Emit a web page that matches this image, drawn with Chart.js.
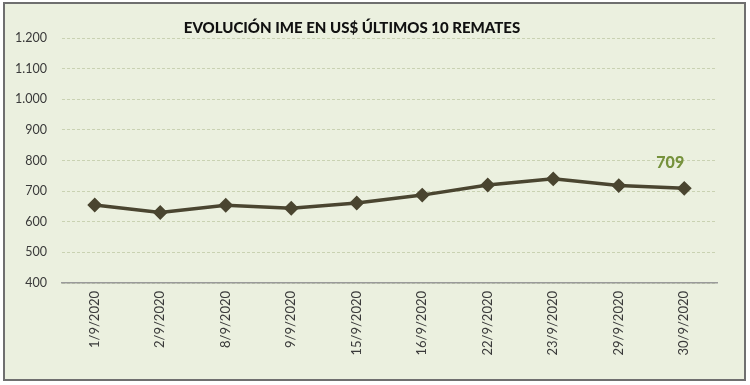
<!DOCTYPE html>
<html>
<head>
<meta charset="utf-8">
<script src="https://cdn.jsdelivr.net/npm/chart.js@4.4.1/dist/chart.umd.min.js"></script>
<style>
  html, body { margin: 0; padding: 0; background: #ffffff; }
  #box { position: absolute; left: 3px; top: 2px; width: 739px; height: 375px;
         background: #EBF0DF; border: 2px solid #6f6f6f; }
  canvas { display: block; }
</style>
</head>
<body>
<div id="box"><canvas id="c" width="739" height="375"></canvas></div>
<script>
const titleText = 'EVOLUCIÓN IME EN US$ ÚLTIMOS 10 REMATES';
const categories = ['1/9/2020','2/9/2020','8/9/2020','9/9/2020','15/9/2020','16/9/2020','22/9/2020','23/9/2020','29/9/2020','30/9/2020'];
const imeValues = [655, 630, 654, 644, 661, 687, 720, 740, 718, 709];
const yTickValues = [400, 500, 600, 700, 800, 900, 1000, 1100, 1200];

function fmt(v) { return v.toLocaleString('de-DE'); }

const titlePlugin = {
  id: 'customTitle',
  afterDraw(chart) {
    const ctx = chart.ctx;
    ctx.save();
    ctx.font = '900 15px Lato';
    ctx.fillStyle = '#111111';
    ctx.textAlign = 'center';
    ctx.textBaseline = 'middle';
    ctx.fillText(titleText, 347, 24);
    ctx.restore();
  }
};

const lastLabelPlugin = {
  id: 'lastLabel',
  afterDatasetsDraw(chart) {
    const meta = chart.getDatasetMeta(0);
    const i = imeValues.length - 1;
    const pt = meta.data[i];
    const ctx = chart.ctx;
    ctx.save();
    ctx.font = '900 16px Lato';
    ctx.fillStyle = '#76923C';
    ctx.textAlign = 'center';
    ctx.textBaseline = 'middle';
    ctx.fillText(String(imeValues[i]), pt.x - 14, pt.y - 26);
    ctx.restore();
  }
};

new Chart(document.getElementById('c'), {
  type: 'line',
  data: {
    labels: categories,
    datasets: [{
      data: imeValues,
      borderColor: '#4A4530',
      backgroundColor: '#4A4530',
      borderWidth: 3.5,
      pointStyle: 'rectRot',
      pointRadius: 5,
      pointHoverRadius: 5,
      tension: 0,
      fill: false
    }]
  },
  options: {
    responsive: false,
    animation: false,
    layout: { padding: { top: 34, right: 27, left: 0, bottom: 0 } },
    plugins: { legend: { display: false }, tooltip: { enabled: false }, title: { display: false } },
    scales: {
      x: {
        offset: true,
        grid: { display: false, drawTicks: false },
        border: { display: true, color: '#9a9a9a', width: 1.5 },
        ticks: { minRotation: 90, maxRotation: 90, padding: 8, color: '#3a3a3a', font: { family: 'Lato', size: 13 } },
        afterFit(s) { s.height = 96; }
      },
      y: {
        min: 400, max: 1200,
        afterBuildTicks(s) { s.ticks = yTickValues.map(v => ({ value: v })); },
        grid: { color: '#C9D2B2', lineWidth: 1, drawTicks: false },
        border: { display: false, dash: [3, 2] },
        ticks: { padding: 15, color: '#3a3a3a', font: { family: 'Lato', size: 12.5 }, callback: v => fmt(v) },
        afterFit(s) { s.width = 57; }
      }
    }
  },
  plugins: [titlePlugin, lastLabelPlugin]
});
</script>
</body>
</html>
